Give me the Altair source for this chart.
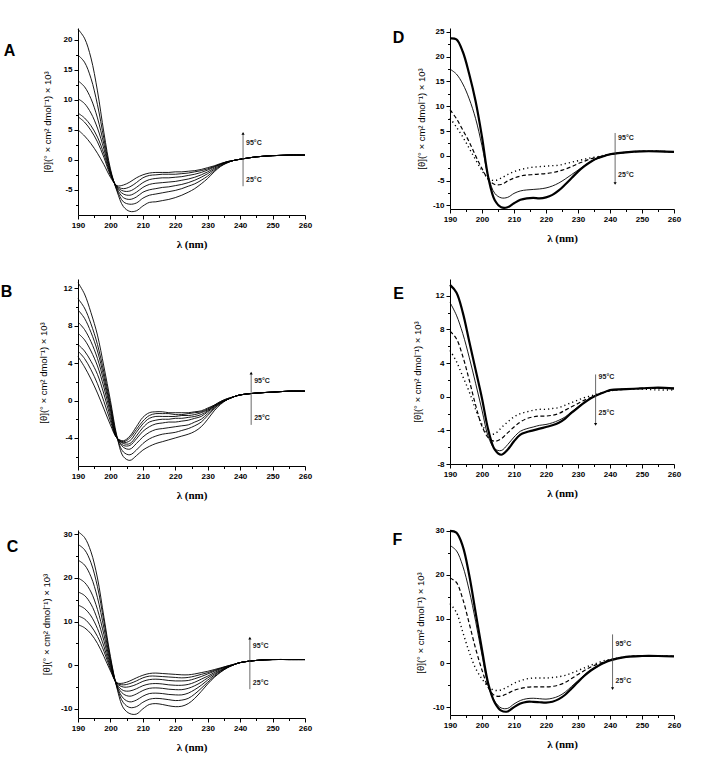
import altair as alt
import pandas as pd

WAVELENGTH = [190, 192, 194, 196, 198, 200, 202, 204, 206, 208, 210, 212, 214, 216, 218,
              220, 222, 224, 226, 228, 230, 232, 234, 236, 238, 240, 245, 250, 255, 260]
X_TICKS = [190, 195, 200, 205, 210, 215, 220, 225, 230, 235, 240, 245, 250, 255, 260]

# ---- Panel A (7 temperatures, 25 -> 95 C)
A_1 = [21.8, 20.3, 17.0, 11.5, 4.5, -1.5, -5.2, -7.8, -8.6, -8.5, -7.7, -7.1, -7.0, -6.8, -6.6, -6.3, -5.9, -5.4, -4.8, -4.0, -3.1, -2.0, -1.1, -0.5, -0.1, 0.1, 0.5, 0.7, 0.8, 0.8]
A_2 = [17.5, 16.3, 13.6, 9.2, 3.5, -1.8, -5.0, -7.0, -7.4, -7.2, -6.4, -5.9, -5.7, -5.5, -5.3, -5.1, -4.8, -4.4, -4.0, -3.4, -2.7, -1.8, -1.0, -0.5, -0.1, 0.1, 0.5, 0.7, 0.8, 0.8]
A_3 = [13.2, 12.2, 10.2, 7.0, 2.6, -2.0, -4.8, -6.3, -6.6, -6.2, -5.4, -5.0, -4.8, -4.6, -4.5, -4.3, -4.1, -3.8, -3.4, -2.9, -2.3, -1.6, -0.9, -0.4, -0.1, 0.1, 0.5, 0.7, 0.8, 0.8]
A_4 = [10.2, 9.4, 7.8, 5.3, 1.8, -2.2, -4.6, -5.7, -5.9, -5.4, -4.6, -4.1, -3.9, -3.8, -3.7, -3.6, -3.4, -3.2, -2.9, -2.5, -2.0, -1.4, -0.8, -0.4, -0.1, 0.1, 0.5, 0.7, 0.8, 0.8]
A_5 = [7.8, 7.0, 5.7, 3.8, 1.0, -2.4, -4.5, -5.2, -5.2, -4.6, -3.8, -3.3, -3.1, -3.0, -3.0, -2.9, -2.8, -2.6, -2.4, -2.1, -1.7, -1.2, -0.7, -0.3, -0.1, 0.1, 0.5, 0.7, 0.8, 0.8]
A_6 = [7.2, 6.3, 4.9, 3.0, 0.4, -2.6, -4.4, -4.8, -4.5, -3.8, -3.0, -2.6, -2.5, -2.4, -2.4, -2.4, -2.3, -2.2, -2.0, -1.8, -1.5, -1.1, -0.7, -0.3, -0.1, 0.1, 0.5, 0.7, 0.8, 0.8]
A_7 = [5.0, 4.0, 2.7, 1.1, -0.8, -2.9, -4.3, -4.2, -3.7, -3.0, -2.5, -2.2, -2.1, -2.1, -2.1, -2.0, -2.0, -1.9, -1.8, -1.6, -1.3, -1.0, -0.6, -0.3, -0.1, 0.1, 0.5, 0.7, 0.8, 0.8]
A_YTICKS = [-7.5, -5, -2.5, 0, 2.5, 5, 7.5, 10, 12.5, 15, 17.5, 20]

# ---- Panel B (8 temperatures)
B_1 = [12.6, 11.4, 9.4, 7.0, 3.6, 0.0, -3.8, -6.0, -6.4, -5.9, -5.3, -4.9, -4.6, -4.4, -4.2, -4.0, -3.8, -3.6, -3.3, -2.8, -2.0, -1.1, -0.4, 0.1, 0.4, 0.6, 0.8, 0.9, 1.0, 1.0]
B_2 = [10.9, 9.9, 8.2, 6.0, 3.0, -0.4, -3.9, -5.5, -5.8, -5.3, -4.6, -4.1, -3.8, -3.6, -3.5, -3.4, -3.2, -3.0, -2.7, -2.3, -1.6, -0.9, -0.3, 0.1, 0.4, 0.6, 0.8, 0.9, 1.0, 1.0]
B_3 = [9.7, 8.8, 7.3, 5.3, 2.5, -0.7, -3.9, -5.0, -5.2, -4.6, -3.9, -3.4, -3.1, -3.0, -2.9, -2.8, -2.7, -2.6, -2.3, -2.0, -1.4, -0.8, -0.3, 0.1, 0.4, 0.6, 0.8, 0.9, 1.0, 1.0]
B_4 = [8.4, 7.6, 6.3, 4.5, 2.0, -1.0, -4.0, -4.8, -4.8, -4.1, -3.3, -2.8, -2.5, -2.4, -2.3, -2.3, -2.2, -2.1, -1.9, -1.7, -1.2, -0.7, -0.2, 0.1, 0.4, 0.6, 0.8, 0.9, 1.0, 1.0]
B_5 = [7.2, 6.5, 5.3, 3.7, 1.4, -1.4, -4.0, -4.6, -4.6, -3.8, -2.9, -2.3, -2.1, -2.0, -2.0, -1.9, -1.9, -1.8, -1.7, -1.5, -1.1, -0.6, -0.2, 0.1, 0.4, 0.6, 0.8, 0.9, 1.0, 1.0]
B_6 = [6.0, 5.3, 4.2, 2.8, 0.7, -1.8, -4.0, -4.5, -4.3, -3.4, -2.5, -1.9, -1.7, -1.7, -1.7, -1.7, -1.6, -1.6, -1.5, -1.3, -1.0, -0.6, -0.2, 0.1, 0.4, 0.6, 0.8, 0.9, 1.0, 1.0]
B_7 = [5.3, 4.5, 3.3, 1.8, -0.1, -2.2, -4.0, -4.4, -4.0, -3.1, -2.2, -1.6, -1.4, -1.4, -1.4, -1.5, -1.5, -1.4, -1.3, -1.2, -0.9, -0.5, -0.1, 0.2, 0.4, 0.6, 0.8, 0.9, 1.0, 1.0]
B_8 = [4.7, 3.6, 2.3, 0.8, -0.9, -2.6, -4.0, -4.3, -3.8, -2.8, -1.8, -1.3, -1.2, -1.2, -1.3, -1.3, -1.3, -1.3, -1.2, -1.1, -0.8, -0.5, -0.1, 0.2, 0.4, 0.6, 0.8, 0.9, 1.0, 1.0]
B_YTICKS = [-6, -4, -2, 0, 2, 4, 6, 8, 10, 12]

# ---- Panel C (8 temperatures)
C_1 = [30.6, 29.3, 26.0, 20.0, 11.0, 2.0, -5.2, -9.8, -11.1, -11.2, -10.0, -9.0, -8.8, -9.0, -9.3, -9.5, -9.4, -8.8, -7.6, -6.0, -4.3, -2.8, -1.6, -0.6, 0.1, 0.6, 1.1, 1.3, 1.3, 1.3]
C_2 = [27.7, 26.5, 23.5, 18.0, 10.0, 1.5, -5.0, -8.6, -9.7, -9.5, -8.5, -7.8, -7.6, -7.7, -7.9, -8.1, -8.0, -7.6, -6.6, -5.3, -3.9, -2.6, -1.5, -0.6, 0.1, 0.6, 1.1, 1.3, 1.3, 1.3]
C_3 = [24.1, 23.0, 20.3, 15.5, 8.5, 1.0, -4.8, -7.6, -8.4, -8.0, -7.1, -6.5, -6.4, -6.5, -6.7, -6.8, -6.8, -6.4, -5.6, -4.6, -3.4, -2.3, -1.3, -0.5, 0.1, 0.6, 1.1, 1.3, 1.3, 1.3]
C_4 = [20.0, 19.0, 16.8, 12.8, 7.0, 0.5, -4.6, -6.6, -7.1, -6.6, -5.8, -5.3, -5.2, -5.3, -5.5, -5.6, -5.6, -5.3, -4.7, -3.9, -2.9, -2.0, -1.2, -0.5, 0.1, 0.6, 1.1, 1.3, 1.3, 1.3]
C_5 = [16.8, 16.0, 14.0, 10.5, 5.6, 0.0, -4.4, -5.8, -5.9, -5.4, -4.7, -4.3, -4.2, -4.3, -4.5, -4.6, -4.6, -4.4, -3.9, -3.2, -2.5, -1.7, -1.0, -0.4, 0.1, 0.6, 1.1, 1.3, 1.3, 1.3]
C_6 = [13.8, 13.0, 11.3, 8.4, 4.3, -0.5, -4.2, -5.0, -4.9, -4.4, -3.7, -3.3, -3.2, -3.3, -3.5, -3.6, -3.6, -3.5, -3.1, -2.6, -2.0, -1.4, -0.8, -0.3, 0.1, 0.6, 1.1, 1.3, 1.3, 1.3]
C_7 = [11.3, 10.6, 9.0, 6.6, 3.2, -0.9, -4.1, -4.5, -4.2, -3.6, -2.9, -2.5, -2.5, -2.6, -2.7, -2.8, -2.9, -2.8, -2.5, -2.1, -1.7, -1.2, -0.7, -0.2, 0.2, 0.6, 1.1, 1.3, 1.3, 1.3]
C_8 = [9.3, 8.6, 7.2, 5.0, 2.0, -1.3, -4.0, -4.1, -3.6, -2.9, -2.3, -1.9, -1.8, -1.9, -2.0, -2.1, -2.2, -2.2, -2.0, -1.7, -1.4, -1.0, -0.6, -0.2, 0.2, 0.6, 1.1, 1.3, 1.3, 1.3]
C_YTICKS = [-10, -5, 0, 5, 10, 15, 20, 25, 30]

# ---- Panel D (thick, thin, dashed, dotted)
D_THICK = [23.7, 23.5, 21.0, 16.5, 11.0, 3.8, -4.5, -9.0, -10.4, -10.4, -9.6, -8.9, -8.6, -8.5, -8.6, -8.4, -7.9, -7.0, -5.8, -4.5, -3.2, -2.1, -1.2, -0.5, -0.1, 0.3, 0.7, 0.9, 0.9, 0.8]
D_THIN = [17.5, 16.5, 14.5, 11.5, 7.5, 2.0, -4.3, -7.6, -8.5, -8.4, -7.6, -7.1, -6.9, -6.8, -6.7, -6.5, -6.1, -5.5, -4.7, -3.8, -2.9, -2.0, -1.2, -0.6, -0.1, 0.2, 0.7, 0.9, 0.9, 0.8]
D_DASH = [9.3, 7.5, 5.2, 2.8, 0.0, -2.6, -4.8, -5.8, -5.8, -5.1, -4.5, -4.1, -3.9, -3.8, -3.7, -3.6, -3.4, -3.1, -2.7, -2.2, -1.6, -1.1, -0.6, -0.3, 0.0, 0.3, 0.7, 0.9, 0.9, 0.8]
D_DOT = [7.6, 5.8, 3.8, 1.5, -0.8, -3.0, -4.6, -5.0, -4.5, -3.8, -3.2, -2.8, -2.5, -2.3, -2.2, -2.1, -2.0, -1.9, -1.6, -1.3, -1.0, -0.7, -0.4, -0.2, 0.1, 0.3, 0.7, 0.9, 0.9, 0.8]
D_YTICKS = [-10, -7.5, -5, -2.5, 0, 2.5, 5, 7.5, 10, 12.5, 15, 17.5, 20, 22.5, 25]

# ---- Panel E
E_THICK = [13.3, 12.4, 10.0, 6.6, 3.2, -0.2, -4.0, -6.3, -6.9, -6.3, -5.3, -4.5, -4.2, -4.0, -3.8, -3.6, -3.4, -3.1, -2.6, -1.9, -1.3, -0.7, -0.2, 0.2, 0.5, 0.8, 0.9, 1.0, 1.1, 1.0]
E_THIN = [11.2, 9.7, 7.5, 4.7, 1.6, -1.6, -4.8, -6.2, -6.4, -5.7, -4.8, -4.1, -3.8, -3.6, -3.4, -3.3, -3.1, -2.8, -2.4, -1.8, -1.2, -0.6, -0.2, 0.2, 0.5, 0.8, 0.9, 1.0, 1.0, 0.9]
E_DASH = [7.8, 6.9, 4.8, 2.0, -1.0, -3.5, -4.9, -5.3, -5.0, -4.3, -3.6, -3.0, -2.6, -2.4, -2.3, -2.3, -2.2, -2.0, -1.6, -1.2, -0.8, -0.4, -0.1, 0.2, 0.5, 0.7, 0.9, 1.0, 1.0, 1.0]
E_DOT = [5.5, 4.2, 2.4, 0.6, -1.5, -3.3, -4.4, -4.4, -3.7, -3.0, -2.4, -2.0, -1.8, -1.6, -1.5, -1.5, -1.4, -1.3, -1.0, -0.7, -0.4, -0.1, 0.1, 0.3, 0.5, 0.7, 0.9, 0.9, 0.8, 0.8]
E_YTICKS = [-8, -6, -4, -2, 0, 2, 4, 6, 8, 10, 12]

# ---- Panel F
F_THICK = [30.0, 29.6, 26.5, 20.0, 11.5, 3.0, -4.8, -9.0, -10.8, -11.0, -10.0, -9.2, -8.8, -8.8, -8.9, -9.0, -8.8, -8.2, -7.2, -5.8, -4.3, -2.9, -1.7, -0.8, 0.0, 0.6, 1.4, 1.6, 1.6, 1.5]
F_THIN = [26.7, 25.5, 22.0, 16.5, 9.5, 1.8, -5.3, -8.7, -10.2, -10.3, -9.3, -8.5, -8.1, -8.0, -8.1, -8.2, -8.0, -7.5, -6.6, -5.3, -4.0, -2.7, -1.6, -0.7, 0.0, 0.6, 1.4, 1.6, 1.6, 1.5]
F_DASH = [19.3, 18.3, 14.5, 9.0, 3.3, -1.6, -5.6, -7.4, -7.5, -6.9, -6.2, -5.8, -5.5, -5.4, -5.4, -5.4, -5.3, -5.0, -4.4, -3.5, -2.6, -1.7, -0.9, -0.3, 0.2, 0.7, 1.4, 1.6, 1.6, 1.5]
F_DOT = [13.5, 11.5, 7.0, 2.5, -1.2, -3.6, -5.4, -6.2, -6.1, -5.4, -4.6, -4.0, -3.6, -3.4, -3.4, -3.4, -3.3, -3.1, -2.8, -2.3, -1.7, -1.1, -0.5, 0.0, 0.5, 0.8, 1.4, 1.6, 1.6, 1.5]
F_YTICKS = [-10, -5, 0, 5, 10, 15, 20, 25, 30]

TEMP_LABELS = ["95°C", "25°C"]
LETTERS = ["A", "D", "B", "E", "C", "F"]
X_TITLE = "λ (nm)"
Y_TITLE = "[θ](° × cm² dmol⁻¹) × 10³"

FONT = "Liberation Sans"

PLAIN = (0.9, None)
STYLE4 = [(2.2, None), (0.9, None), (1.2, [4, 2.5]), (1.4, [1.2, 3])]

PANELS = [
    dict(letter="A", curves=[A_1, A_2, A_3, A_4, A_5, A_6, A_7], styles=None,
         ydom=[-9.2, 22], yticks=A_YTICKS, major=5, arrow=(240.9, -4.4, 4.4), labs=(2.85, -3.3),
         lxy=(-68.5, 23), titlex=-31, w=227, h=187, anchor=True),
    dict(letter="D", curves=[D_THICK, D_THIN, D_DASH, D_DOT], styles=STYLE4,
         ydom=[-10.75, 25.8], yticks=D_YTICKS, major=5, arrow=(241.6, 4.6, -5.6), labs=(3.6, -3.8),
         lxy=(-51.5, 10), titlex=-29, w=224, h=181),
    dict(letter="B", curves=[B_1, B_2, B_3, B_4, B_5, B_6, B_7, B_8], styles=None,
         ydom=[-7, 13], yticks=B_YTICKS, major=4, arrow=(243.4, -2.6, 2.94), labs=(2.05, -1.9),
         lxy=(-71.5, 13), titlex=-35, w=227, h=187),
    dict(letter="E", curves=[E_THICK, E_THIN, E_DASH, E_DOT], styles=STYLE4,
         ydom=[-8, 14], yticks=E_YTICKS, major=4, arrow=(235.5, 2.65, -3.3), labs=(2.4, -1.9),
         lxy=(-51.5, 15), titlex=-33, w=224, h=185),
    dict(letter="C", curves=[C_1, C_2, C_3, C_4, C_5, C_6, C_7, C_8], styles=None,
         ydom=[-12.1, 31], yticks=C_YTICKS, major=10, arrow=(243.0, -5.5, 6.2), labs=(4.3, -4.0),
         lxy=(-65.5, 17), titlex=-32, w=227, h=188),
    dict(letter="F", curves=[F_THICK, F_THIN, F_DASH, F_DOT], styles=STYLE4,
         ydom=[-11.8, 30.2], yticks=F_YTICKS, major=10, arrow=(240.8, 6.5, -5.8), labs=(4.4, -4.0),
         lxy=(-52.5, 10), titlex=-30, w=224, h=185),
]


def make_panel(p):
    rows = []
    for i, vals in enumerate(p["curves"]):
        for wl, v in zip(WAVELENGTH, vals):
            rows.append({"wl": wl, "v": v, "c": i})
    df = pd.DataFrame(rows)
    major = p["major"]

    xaxis = alt.Axis(
        values=X_TICKS,
        labelExpr="datum.value % 10 === 0 ? '' + datum.value : ''",
        tickSize={"condition": {"test": "datum.value % 10 === 0", "value": 4}, "value": 2.5},
        title=X_TITLE, titleY=29, titleBaseline="middle",
        titleFont="Liberation Serif", titleFontWeight="bold", titleFontSize=11,
        labelFlush=False, labelOverlap=False, labelPadding=2, grid=False,
    )
    yaxis = alt.Axis(
        values=p["yticks"],
        labelExpr="datum.value %% %d === 0 ? '' + datum.value : ''" % major,
        tickSize={"condition": {"test": "datum.value %% %d === 0" % major, "value": 4}, "value": 2.5},
        title=Y_TITLE, titleX=p["titlex"], titleBaseline="middle",
        titleFont=FONT, titleFontWeight="normal", titleFontSize=9.5,
        labelFlush=False, labelOverlap=False, labelPadding=2, grid=False,
    )
    xenc = alt.X("wl:Q", scale=alt.Scale(domain=[190, 260], nice=False, zero=False), axis=xaxis)
    yenc = alt.Y("v:Q", scale=alt.Scale(domain=p["ydom"], nice=False, zero=False), axis=yaxis)

    layers = []
    if p["styles"] is None:
        layers.append(
            alt.Chart(df).mark_line(color="black", strokeWidth=PLAIN[0], interpolate="catmull-rom")
            .encode(x=xenc, y=yenc, detail="c:N")
        )
    else:
        for i, (sw, dash) in enumerate(p["styles"]):
            kw = dict(color="black", strokeWidth=sw, interpolate="catmull-rom")
            if dash is not None:
                kw["strokeDash"] = dash
            layers.append(
                alt.Chart(df).transform_filter(alt.datum.c == i).mark_line(**kw)
                .encode(x=xenc, y=yenc)
            )

    ax, y0, y1 = p["arrow"]
    arrow_df = pd.DataFrame({"wl": [ax], "v": [y0], "v2": [y1]})
    layers.append(
        alt.Chart(arrow_df).mark_rule(color="#444444", strokeWidth=0.8)
        .encode(x=xenc, y=yenc, y2="v2:Q")
    )
    head_df = pd.DataFrame({"wl": [ax], "v": [y1]})
    layers.append(
        alt.Chart(head_df).mark_point(shape="triangle-up" if y1 > y0 else "triangle-down",
                                      filled=True, size=10, color="black", opacity=1)
        .encode(x=xenc, y=yenc)
    )
    lab_df = pd.DataFrame({"wl": [ax, ax], "v": list(p["labs"]), "t": TEMP_LABELS})
    layers.append(
        alt.Chart(lab_df).mark_text(align="left", baseline="middle", dx=3, fontSize=7,
                                    fontWeight="bold", font=FONT, color="#222222")
        .encode(x=xenc, y=yenc, text="t:N")
    )
    lx, ly = p["lxy"]
    layers.append(
        alt.Chart(pd.DataFrame({"t": [p["letter"]]}))
        .mark_text(fontSize=16, fontWeight="bold", font=FONT, align="center", baseline="middle", color="black")
        .encode(x=alt.value(lx), y=alt.value(ly), text="t:N")
    )
    if p.get("anchor"):
        layers.append(
            alt.Chart(pd.DataFrame({"a": [0]})).mark_rule(strokeOpacity=0)
            .encode(x=alt.value(-77.5), x2=alt.value(-77.5), y=alt.value(-28), y2=alt.value(-27))
        )
    return alt.layer(*layers).properties(width=p["w"], height=p["h"])


charts = [make_panel(p) for p in PANELS]

chart = alt.concat(
    *charts, columns=2, spacing={"row": 64, "column": 145}, bounds="flush", align="each"
).properties(
    padding={"left": 0, "top": 0, "right": 5, "bottom": 5},
    background="white",
).configure_view(stroke=None).configure_axis(
    labelFont=FONT, labelFontSize=8, labelFontWeight="bold", labelColor="black",
    domainColor="black", domainWidth=1, tickColor="black", tickWidth=1,
    titleColor="black",
)

chart.save("out.html", embed_options={"renderer": "svg", "actions": False})
